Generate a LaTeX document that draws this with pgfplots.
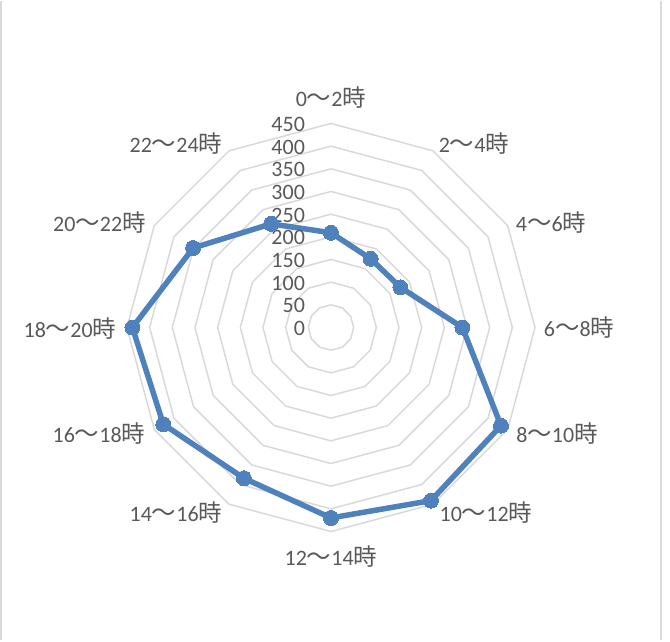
\documentclass[border=0pt]{standalone}
\usepackage{pgfplots}
\pgfplotsset{compat=1.18}
\usepackage{fontspec}
\setmainfont{Carlito}
\newfontfamily\cjk{Noto Sans CJK JP}
\definecolor{txt}{HTML}{595959}
\definecolor{gridc}{HTML}{D9D9D9}
\definecolor{ser}{HTML}{4F81BD}
\newcommand\lab[2]{#1{\cjk\fontsize{24.5}{26}\selectfont ～}#2{\cjk\fontsize{23.5}{26}\selectfont 時}}
\tikzset{lbl/.style={text=txt, font=\fontsize{22}{26}\selectfont}}
\begin{document}
\begin{tikzpicture}[font=\fontsize{22}{26}\selectfont, text=txt]
\begin{axis}[
  scale only axis, width=670pt, height=639pt,
  xmin=-730.1, xmax=747.8, ymin=-689.3, ymax=720.2,
  hide axis, clip=false,
]
\path (rel axis cs:0,0) rectangle (rel axis cs:1,1);
% frame
\draw[gridc, line width=2pt] (axis cs:-726.8,-689.3) -- (axis cs:-726.8,720.2);
\draw[gridc, line width=2pt] (axis cs:729.0,-689.3) -- (axis cs:729.0,720.2);
% rings
\pgfplotsinvokeforeach{50,100,150,200,250,300,350,400,450}{
  \addplot[gridc, line width=1.5pt, data cs=polar, mark=none]
    coordinates {(90,#1) (60,#1) (30,#1) (0,#1) (-30,#1) (-60,#1) (-90,#1) (-120,#1) (-150,#1) (180,#1) (150,#1) (120,#1) (90,#1)};
}
% series
\addplot[ser, line width=5.5pt, line join=round, data cs=polar, mark=*, mark size=7.5pt, mark options={solid, fill=ser, draw=ser, line width=0pt}]
  coordinates {(90,209) (60,175) (30,177) (0,290) (-30,433) (-60,441) (-90,420) (-120,384) (-150,427) (180,438) (150,351) (120,264) (90,209)};
% value labels
\foreach \v in {0,50,...,450} {
  \edef\tmp{\noexpand\node[lbl, anchor=east, inner sep=0pt] at (axis cs:-57,\v-2) {\v};}
  \tmp
}
% category labels
\node[lbl] at (axis cs:0,506.3) {\lab{0}{2}};
\node[lbl] at (axis cs:315.4,404.8) {\lab{2}{4}};
\node[lbl] at (axis cs:485.3,230.5) {\lab{4}{6}};
\node[lbl] at (axis cs:547.1,-1.1) {\lab{6}{8}};
\node[lbl] at (axis cs:498.5,-234.9) {\lab{8}{10}};
\node[lbl] at (axis cs:341.9,-409.2) {\lab{10}{12}};
\node[lbl] at (axis cs:0,-506.3) {\lab{12}{14}};
\node[lbl] at (axis cs:-341.9,-409.2) {\lab{14}{16}};
\node[lbl] at (axis cs:-511.8,-234.9) {\lab{16}{18}};
\node[lbl] at (axis cs:-575.7,-3.3) {\lab{18}{20}};
\node[lbl] at (axis cs:-510.7,230.5) {\lab{20}{22}};
\node[lbl] at (axis cs:-341.9,404.8) {\lab{22}{24}};
\end{axis}
\end{tikzpicture}
\end{document}
